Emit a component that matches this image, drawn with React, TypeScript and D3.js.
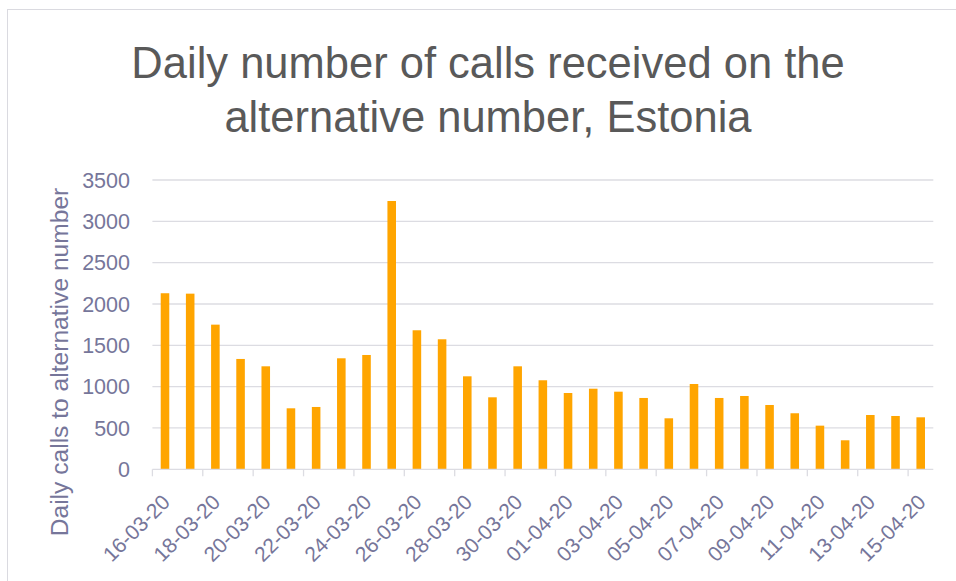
import * as d3 from 'd3';
import React, { useEffect, useRef } from 'react';

// daily calls to the alternative number, Estonia
const dates = [
    "16-03-20", "17-03-20", "18-03-20", "19-03-20", "20-03-20", "21-03-20", "22-03-20", "23-03-20",
    "24-03-20", "25-03-20", "26-03-20", "27-03-20", "28-03-20", "29-03-20", "30-03-20", "31-03-20",
    "01-04-20", "02-04-20", "03-04-20", "04-04-20", "05-04-20", "06-04-20", "07-04-20", "08-04-20",
    "09-04-20", "10-04-20", "11-04-20", "12-04-20", "13-04-20", "14-04-20", "15-04-20"
]
const calls = [
    2130, 2125, 1750, 1335, 1246, 738, 754, 1343,
    1383, 3246, 1682, 1573, 1125, 871, 1246, 1077,
    923, 975, 939, 863, 617, 1032, 863, 887,
    778, 678, 528, 351, 657, 645, 629
]
const yTicks = [0, 500, 1000, 1500, 2000, 2500, 3000, 3500]
const titleLines = ["Daily number of calls received on the", "alternative number, Estonia"]
const yTitle = "Daily calls to alternative number"

function App() {
    const ref = useRef(null)

    var drawChart = () => {
        const svg = d3.select(ref.current)
        const width = 956, height = 581
        const plot = { left: 152.4, right: 933.3, top: 180, bottom: 469.3 }
        const font = "'Liberation Sans', Arial, sans-serif"
        const labelColor = "#76769a"

        svg.attr("width", width).attr("height", height)
        svg.selectAll("*").remove()

        svg.append("rect")
            .attr("width", width).attr("height", height)
            .attr("fill", "#fff")
        // chart border (runs off right/bottom edges)
        svg.append("rect")
            .attr("x", 7.5).attr("y", 9.5)
            .attr("width", 1000).attr("height", 1000)
            .attr("fill", "none")
            .attr("stroke", "#dadae0")

        const x = d3.scaleBand()
            .domain(dates)
            .range([plot.left, plot.right])
            .paddingInner(0.66)
            .paddingOuter(0.33)
        const y = d3.scaleLinear()
            .domain([0, 3500])
            .range([plot.bottom, plot.top])

        //gridlines
        svg.append("g")
            .selectAll("line")
            .data(yTicks.filter(d => d > 0))
            .join("line")
            .attr("x1", plot.left).attr("x2", plot.right)
            .attr("y1", d => y(d)).attr("y2", d => y(d))
            .attr("stroke", "#dcdce2")
            .attr("stroke-width", 1.3)

        //y labels
        svg.append("g")
            .selectAll("text")
            .data(yTicks)
            .join("text")
            .attr("x", 130)
            .attr("y", d => y(d))
            .attr("dy", "0.36em")
            .attr("text-anchor", "end")
            .attr("font-family", font)
            .attr("font-size", 21.5)
            .attr("fill", labelColor)
            .text(d => d)

        //bars
        svg.append("g")
            .selectAll("rect")
            .data(calls)
            .join("rect")
            .attr("x", (d, i) => x(dates[i]))
            .attr("width", x.bandwidth())
            .attr("y", d => y(d))
            .attr("height", d => y(0) - y(d))
            .attr("fill", "#ffa500")

        //x axis line + ticks every 2 categories
        svg.append("line")
            .attr("x1", plot.left).attr("x2", plot.right)
            .attr("y1", y(0)).attr("y2", y(0))
            .attr("stroke", "#dcdce2")
            .attr("stroke-width", 1.3)
        const step = x.step()
        svg.append("g")
            .selectAll("line")
            .data(dates.filter((d, i) => i % 2 === 0))
            .join("line")
            .attr("x1", (d, i) => plot.left + i * 2 * step)
            .attr("x2", (d, i) => plot.left + i * 2 * step)
            .attr("y1", y(0)).attr("y2", y(0) + 7)
            .attr("stroke", "#dcdce2")
            .attr("stroke-width", 1.3)

        //x labels, rotated
        svg.append("g")
            .selectAll("text")
            .data(dates.filter((d, i) => i % 2 === 0))
            .join("text")
            .attr("transform", d => "translate(" + (x(d) + x.bandwidth() / 2 + 1) + "," + (y(0) + 29) + ") rotate(-45)")
            .attr("text-anchor", "end")
            .attr("dy", "0.35em")
            .attr("font-family", font)
            .attr("font-size", 21)
            .attr("fill", labelColor)
            .text(d => d)

        //y axis title
        svg.append("text")
            .attr("transform", "translate(68," + 362 + ") rotate(-90)")
            .attr("text-anchor", "middle")
            .attr("font-family", font)
            .attr("font-size", 24.6)
            .attr("fill", labelColor)
            .text(yTitle)

        //title
        svg.append("g")
            .selectAll("text")
            .data(titleLines)
            .join("text")
            .attr("x", 488)
            .attr("y", (d, i) => 78 + i * 54)
            .attr("text-anchor", "middle")
            .attr("font-family", font)
            .attr("font-size", 43.5)
            .attr("fill", "#595959")
            .text(d => d)
    }

    useEffect(() => {
        drawChart()
    }, [])

    return (
        <svg ref={ref} style={{ position: "absolute", left: 0, top: 0, display: "block" }}></svg>
    )
}

export default App;
